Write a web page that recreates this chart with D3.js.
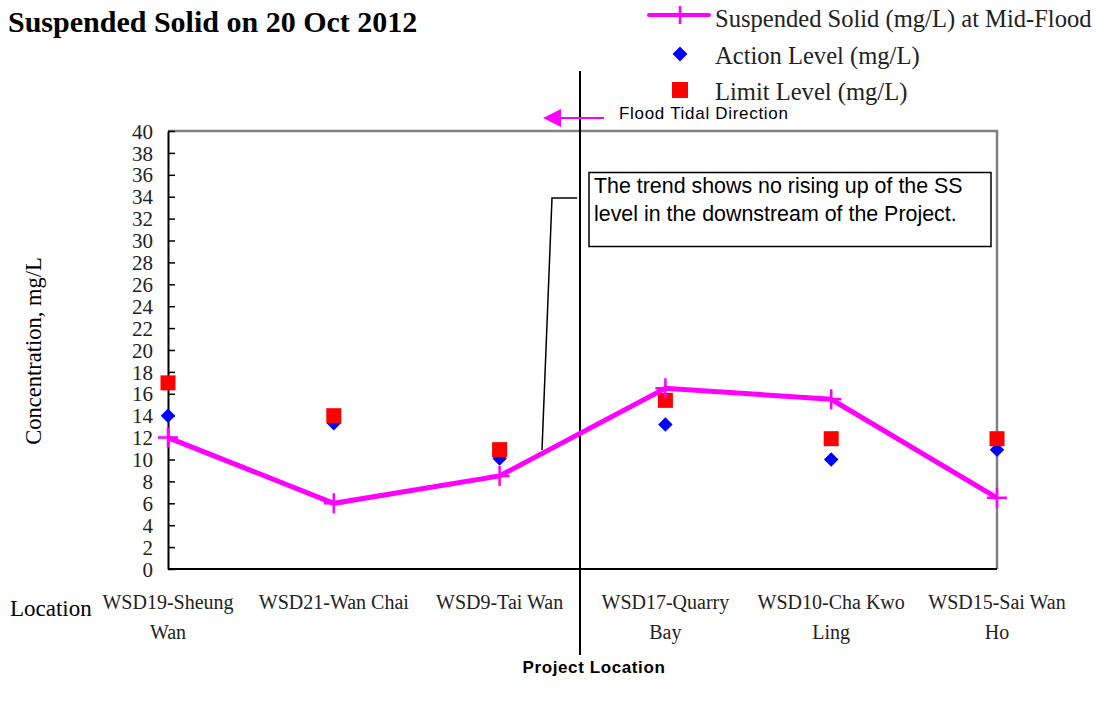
<!DOCTYPE html>
<html>
<head>
<meta charset="utf-8">
<script src="https://cdn.jsdelivr.net/npm/d3@7"></script>
<style>
  html, body { margin: 0; padding: 0; background: #fff; }
  svg { display: block; }
</style>
</head>
<body>
<script>
// Monitoring stations along the shoreline (two-line labels)
const stations = ["WSD19-Sheung Wan", "WSD21-Wan Chai", "WSD9-Tai Wan", "WSD17-Quarry Bay", "WSD10-Cha Kwo Ling", "WSD15-Sai Wan Ho"];
const stationLines = [["WSD19-Sheung", "Wan"], ["WSD21-Wan Chai"], ["WSD9-Tai Wan"], ["WSD17-Quarry", "Bay"], ["WSD10-Cha Kwo", "Ling"], ["WSD15-Sai Wan", "Ho"]];

// Suspended solid readings, mg/L
const ssMidFlood = [12.0, 6.0, 8.5, 16.5, 15.5, 6.5];
const actionLevel = [14.0, 13.3, 10.1, 13.2, 10.0, 10.9];
const limitLevel = [17.0, 14.0, 10.9, 15.4, 11.9, 11.9];

const yTicks = d3.range(0, 41, 2);

const W = 1100, H = 704;
const plot = { left: 168, right: 997, top: 131, bottom: 569 };

const svg = d3.select("body").append("svg").attr("width", W).attr("height", H);

const x = d3.scalePoint().domain(stations).range([plot.left, plot.right]).padding(0);
const y = d3.scaleLinear().domain([0, 40]).range([plot.bottom, plot.top]);

const serif = "'Liberation Serif', 'Times New Roman', serif";
const sans = "'Liberation Sans', Arial, sans-serif";
const MAGENTA = "#FF00FF", BLUE = "#0000FF", RED = "#FF0000";

// Title
svg.append("text").attr("x", 8).attr("y", 32)
  .style("font-family", serif).style("font-weight", "bold").style("font-size", "30px")
  .text("Suspended Solid on 20 Oct 2012");

// Plot frame: grey top/right edges
svg.append("path")
  .attr("d", `M${plot.left},${plot.top}H${plot.right}V${plot.bottom}`)
  .attr("fill", "none").attr("stroke", "#808080").attr("stroke-width", 2.5);

// Bottom axis line
svg.append("line")
  .attr("x1", plot.left).attr("x2", plot.right).attr("y1", plot.bottom).attr("y2", plot.bottom)
  .attr("stroke", "#000").attr("stroke-width", 2);

// Y axis with inward ticks
const yAxis = svg.append("g").attr("transform", `translate(${plot.left},0)`)
  .call(d3.axisLeft(y).tickValues(yTicks).tickSizeInner(-7).tickSizeOuter(0).tickPadding(15));
yAxis.select(".domain").attr("stroke", "#000").attr("stroke-width", 2);
yAxis.selectAll(".tick line").attr("stroke", "#000").attr("stroke-width", 1.5);
yAxis.selectAll(".tick text")
  .style("font-family", serif).style("font-size", "21px").attr("fill", "#222")
  .attr("dy", "0.34em");

// Y axis title
svg.append("text")
  .attr("transform", "translate(41,351) rotate(-90)")
  .attr("text-anchor", "middle")
  .style("font-family", serif).style("font-size", "22.5px")
  .text("Concentration, mg/L");

// X category labels
const xLab = svg.append("g");
stations.forEach((s, i) => {
  const t = xLab.append("text").attr("x", x(s)).attr("text-anchor", "middle")
    .style("font-family", serif).style("font-size", "20px").attr("fill", "#222");
  stationLines[i].forEach((ln, j) => {
    t.append("tspan").attr("x", x(s)).attr("y", 609 + j * 30).text(ln);
  });
});
svg.append("text").attr("x", 10).attr("y", 616)
  .style("font-family", serif).style("font-size", "23px")
  .text("Location");

// Project location divider
const divX = 580;
svg.append("line").attr("x1", divX).attr("x2", divX).attr("y1", 71).attr("y2", 655)
  .attr("stroke", "#000").attr("stroke-width", 2);
svg.append("text").attr("x", 594).attr("y", 673).attr("text-anchor", "middle")
  .style("font-family", sans).style("font-weight", "bold").style("font-size", "17px")
  .style("letter-spacing", "0.6px")
  .text("Project Location");

// Flood tidal direction arrow
svg.append("line").attr("x1", 604).attr("x2", 558).attr("y1", 118).attr("y2", 118)
  .attr("stroke", MAGENTA).attr("stroke-width", 2);
svg.append("path").attr("d", "M543,118L561,109L561,127Z").attr("fill", MAGENTA);
svg.append("text").attr("x", 619).attr("y", 119)
  .style("font-family", sans).style("font-size", "17px").style("letter-spacing", "0.7px")
  .text("Flood Tidal Direction");

// Action level diamonds
const diamond = d3.symbol().type(d3.symbolSquare).size(105);
svg.append("g").selectAll("path").data(actionLevel).join("path")
  .attr("d", diamond)
  .attr("transform", (d, i) => `translate(${x(stations[i])},${y(d)}) rotate(45)`)
  .attr("fill", BLUE);

// Limit level squares
svg.append("g").selectAll("rect").data(limitLevel).join("rect")
  .attr("x", (d, i) => x(stations[i]) - 7.5).attr("y", d => y(d) - 7.5)
  .attr("width", 15).attr("height", 15).attr("fill", RED);

// Suspended solid line with cross markers
const line = d3.line().x((d, i) => x(stations[i])).y(d => y(d));
svg.append("path").datum(ssMidFlood).attr("d", line)
  .attr("fill", "none").attr("stroke", MAGENTA).attr("stroke-width", 5)
  .attr("stroke-linejoin", "miter");
svg.append("g").selectAll("path").data(ssMidFlood).join("path")
  .attr("d", (d, i) => {
    const cx = x(stations[i]), cy = y(d);
    return `M${cx - 10},${cy}H${cx + 10}M${cx},${cy - 10}V${cy + 10}`;
  })
  .attr("stroke", MAGENTA).attr("stroke-width", 2.5);

// Callout box and leader
svg.append("path").attr("d", "M577,198H552L542,450")
  .attr("fill", "none").attr("stroke", "#000").attr("stroke-width", 1.5);
svg.append("rect").attr("x", 589).attr("y", 172.5).attr("width", 402).attr("height", 74)
  .attr("fill", "#fff").attr("stroke", "#000").attr("stroke-width", 1.5);
const note = svg.append("text").style("font-family", sans).style("font-size", "21.4px");
note.append("tspan").attr("x", 594).attr("y", 193).text("The trend shows no rising up of the SS");
note.append("tspan").attr("x", 594).attr("y", 221).text("level in the downstream of the Project.");

// Legend
const lg = svg.append("g");
lg.append("line").attr("x1", 649).attr("x2", 709).attr("y1", 15).attr("y2", 15)
  .attr("stroke", MAGENTA).attr("stroke-width", 4).attr("stroke-linecap", "round");
lg.append("line").attr("x1", 680).attr("x2", 680).attr("y1", 6).attr("y2", 24)
  .attr("stroke", MAGENTA).attr("stroke-width", 2.5);
lg.append("path").attr("d", d3.symbol().type(d3.symbolSquare).size(110))
  .attr("transform", "translate(680,54) rotate(45)").attr("fill", BLUE);
lg.append("rect").attr("x", 672).attr("y", 82).attr("width", 16).attr("height", 16).attr("fill", RED);
const legendItems = ["Suspended Solid (mg/L) at Mid-Flood", "Action Level (mg/L)", "Limit Level (mg/L)"];
const legendBase = [27, 64, 100];
legendItems.forEach((t, i) => {
  lg.append("text")
    .attr("transform", `translate(715,${legendBase[i]}) scale(0.945,1)`)
    .style("font-family", serif).style("font-size", "26px").attr("fill", "#222")
    .text(t);
});
</script>
</body>
</html>
